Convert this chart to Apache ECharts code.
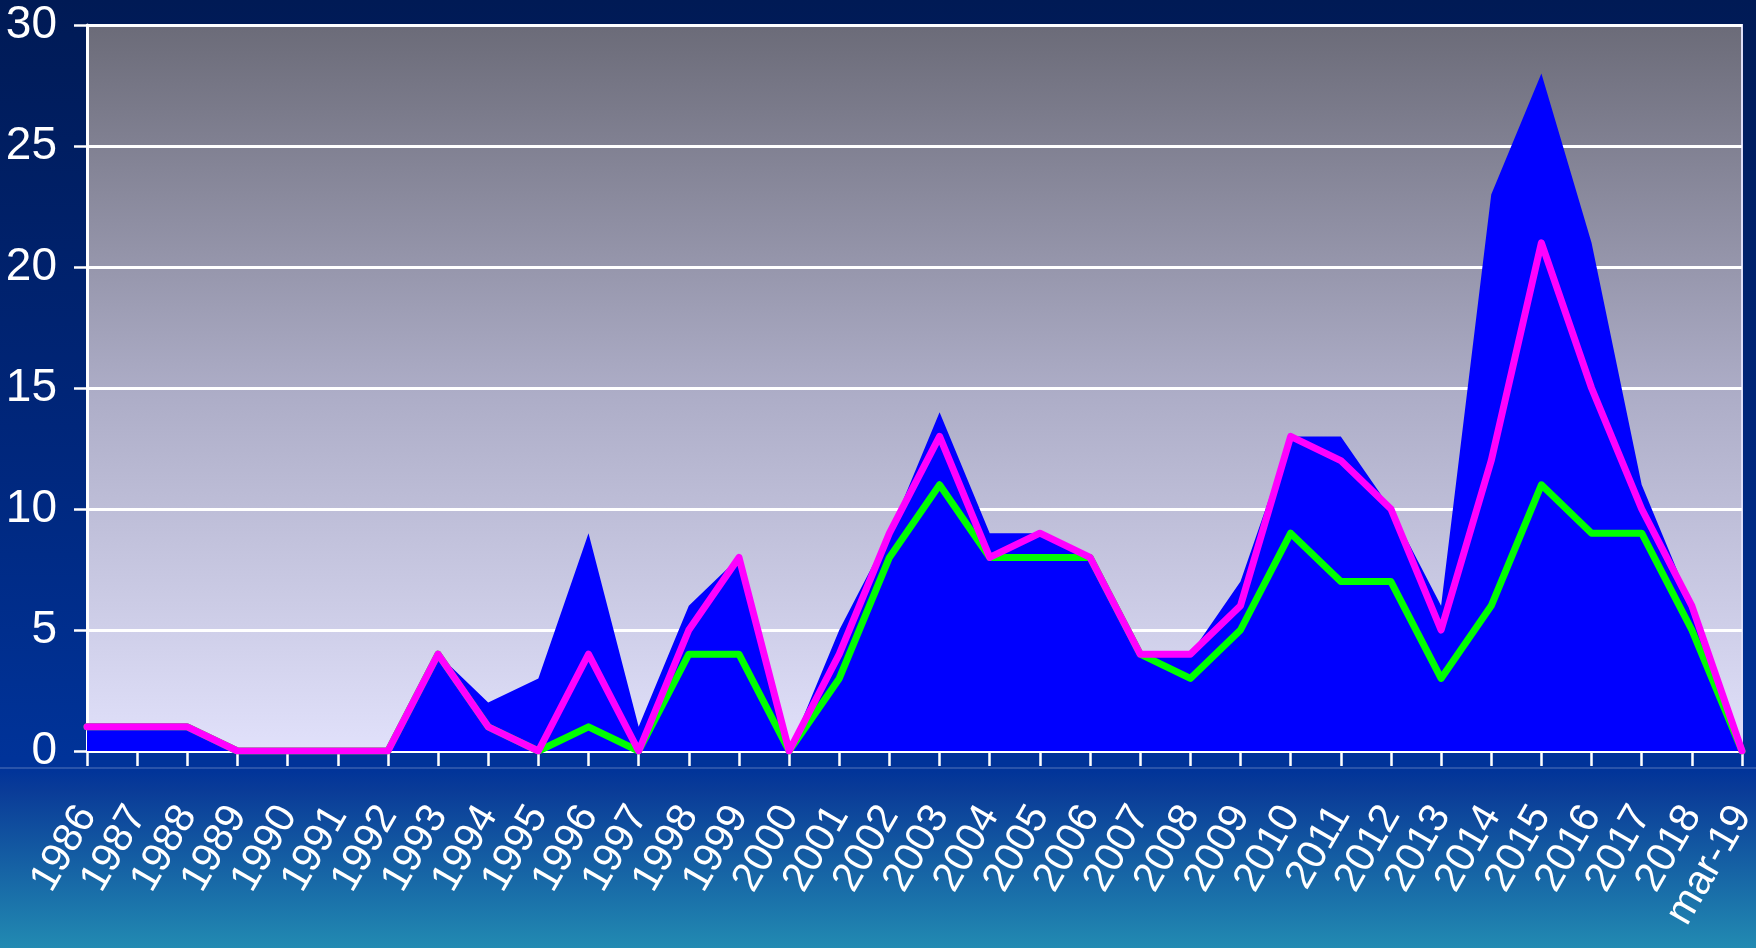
<!DOCTYPE html>
<html>
<head>
<meta charset="utf-8">
<script src="https://cdn.jsdelivr.net/npm/echarts@6/dist/echarts.min.js"></script>
<style>
html,body{margin:0;padding:0;width:1756px;height:948px;overflow:hidden;background:#001a55;}
#chart{width:1756px;height:948px;}
</style>
</head>
<body>
<div id="chart"></div>
<script>
// ---- data ----
const categories = ['1986','1987','1988','1989','1990','1991','1992','1993','1994','1995','1996','1997','1998','1999','2000','2001','2002','2003','2004','2005','2006','2007','2008','2009','2010','2011','2012','2013','2014','2015','2016','2017','2018','mar-19'];
const totalValues   = [1,1,1,0,0,0,0,4,2,3,9,1,6,8,0,5,9,14,9,9,8,4,4,7,13,13,10,6,23,28,21,11,6,0];
const magentaValues = [1,1,1,0,0,0,0,4,1,0,4,0,5,8,0,4,9,13,8,9,8,4,4,6,13,12,10,5,12,21,15,10,6,0];
const greenValues   = [1,1,1,0,0,0,0,4,1,0,1,0,4,4,0,3,8,11,8,8,8,4,3,5,9,7,7,3,6,11,9,9,5,0];
const yTicks = { min: 0, max: 30, interval: 5 };

const chart = echarts.init(document.getElementById('chart'), null, { renderer: 'canvas' });
const G = echarts.graphic.LinearGradient;

chart.setOption({
  animation: false,
  backgroundColor: new G(0, 0, 0, 1, [
    { offset: 0, color: '#001a55' },
    { offset: 0.45, color: '#00267a' },
    { offset: 0.8, color: '#003399' },
    { offset: 1, color: '#003399' }
  ]),
  graphic: [
    {
      type: 'rect', z: -1, silent: true,
      shape: { x: 0, y: 768, width: 1756, height: 180 },
      style: { fill: new G(0, 0, 0, 1, [
        { offset: 0, color: '#003399' },
        { offset: 0.13, color: '#0a3c98' },
        { offset: 1, color: '#228ab2' }
      ]) }
    },
    {
      type: 'rect', z: -1, silent: true,
      shape: { x: 0, y: 767.5, width: 1756, height: 1 },
      style: { fill: '#5577bb' }
    }
  ],
  grid: {
    left: 87, right: 14, top: 25, bottom: 197,
    containLabel: false,
    outerBoundsMode: 'none',
    show: true,
    backgroundColor: new G(0, 0, 0, 1, [
      { offset: 0, color: '#6b6b78' },
      { offset: 0.5, color: '#acacc6' },
      { offset: 1, color: '#e1e1fb' }
    ]),
    borderColor: '#dedef8',
    borderWidth: 2
  },
  xAxis: {
    type: 'category',
    boundaryGap: false,
    data: categories,
    axisLine: { show: true, lineStyle: { color: '#ffffff', width: 3 } },
    axisTick: { show: true, length: 15, interval: 0, lineStyle: { color: '#ffffff', width: 2.5 } },
    axisLabel: {
      interval: 0,
      rotate: 60,
      color: '#ffffff',
      fontFamily: 'Liberation Sans, Arial, sans-serif',
      fontSize: 41,
      margin: 58,
      verticalAlign: 'middle',
      padding: [16, 0, 0, 0]
    },
    splitLine: { show: false }
  },
  yAxis: {
    type: 'value',
    min: yTicks.min, max: yTicks.max, interval: yTicks.interval,
    axisLine: { show: true, lineStyle: { color: '#ffffff', width: 3 } },
    axisTick: { show: true, length: 13, lineStyle: { color: '#ffffff', width: 2.5 } },
    axisLabel: {
      color: '#ffffff',
      fontFamily: 'Liberation Sans Narrow, Arial Narrow, Liberation Sans, sans-serif',
      fontSize: 46,
      margin: 30
    },
    splitLine: { show: true, lineStyle: { color: '#ffffff', width: 3 } }
  },
  series: [
    {
      type: 'line', data: totalValues, symbol: 'none', z: 2,
      lineStyle: { width: 0, opacity: 0 },
      areaStyle: { color: '#0000ff', opacity: 1 }
    },
    {
      type: 'line', data: greenValues, symbol: 'none', z: 3,
      lineStyle: { color: '#00ff00', width: 7, cap: 'round', join: 'round' }
    },
    {
      type: 'line', data: magentaValues, symbol: 'none', z: 4,
      lineStyle: { color: '#ff00ff', width: 7, cap: 'round', join: 'round' }
    }
  ]
});
</script>
</body>
</html>
